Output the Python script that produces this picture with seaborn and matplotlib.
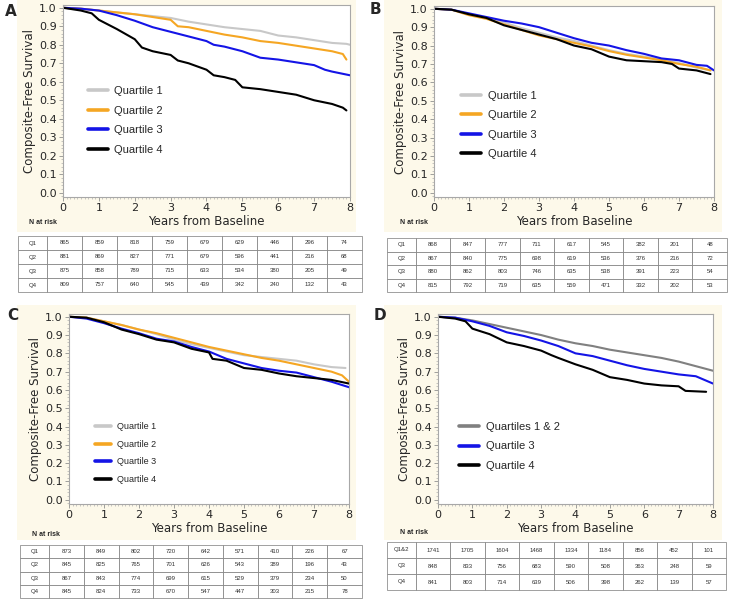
import pandas as pd
import matplotlib.pyplot as plt
import seaborn as sns
from matplotlib.patches import Rectangle
from matplotlib.lines import Line2D
from matplotlib.ticker import MultipleLocator

sns.set_style('white')
plt.rcParams['font.family'] = ['DejaVu Sans']

# ---- survival curves ----
# Panel A
a_q1_t = [0, 0.5, 1, 1.5, 2, 2.5, 3, 3.5, 4, 4.5, 5, 5.5, 5.8, 6, 6.5, 7, 7.5, 7.9, 8.0]
a_q1_s = [1.0, 0.995, 0.985, 0.975, 0.965, 0.955, 0.945, 0.925, 0.91, 0.895, 0.885, 0.875, 0.86, 0.85, 0.84, 0.825, 0.81, 0.805, 0.80]
a_q2_t = [0, 0.5, 1, 1.5, 2, 2.5, 3, 3.2, 3.5, 4, 4.5, 5, 5.5, 6, 6.5, 7, 7.5, 7.8, 7.9]
a_q2_s = [1.0, 0.995, 0.985, 0.975, 0.965, 0.95, 0.935, 0.90, 0.895, 0.875, 0.855, 0.84, 0.82, 0.81, 0.795, 0.78, 0.765, 0.75, 0.72]
a_q3_t = [0, 0.5, 1, 1.5, 2, 2.5, 3, 3.5, 4, 4.2, 4.5, 5, 5.5, 6, 6.5, 7, 7.3, 7.5, 8.0]
a_q3_s = [1.0, 0.995, 0.985, 0.96, 0.93, 0.895, 0.87, 0.845, 0.82, 0.80, 0.79, 0.765, 0.73, 0.72, 0.705, 0.69, 0.665, 0.655, 0.635]
a_q4_t = [0, 0.5, 0.8, 1, 1.5, 2, 2.2, 2.5, 3, 3.2, 3.5, 4, 4.2, 4.5, 4.8, 5, 5.5, 6, 6.5, 7, 7.5, 7.8, 7.9]
a_q4_s = [1.0, 0.985, 0.97, 0.935, 0.885, 0.83, 0.785, 0.765, 0.745, 0.715, 0.70, 0.665, 0.635, 0.625, 0.61, 0.57, 0.56, 0.545, 0.53, 0.50, 0.48, 0.46, 0.445]
# Panel B
b_q1_t = [0, 0.5, 1, 1.5, 2, 2.5, 3, 3.5, 4, 4.5, 5, 5.5, 6, 6.5, 7, 7.5, 7.9]
b_q1_s = [1.0, 0.995, 0.97, 0.95, 0.925, 0.895, 0.87, 0.845, 0.825, 0.80, 0.775, 0.755, 0.74, 0.725, 0.705, 0.68, 0.665]
b_q2_t = [0, 0.5, 1, 1.5, 2, 2.5, 3, 3.5, 4, 4.5, 5, 5.5, 6, 6.5, 7, 7.5, 7.9]
b_q2_s = [1.0, 0.995, 0.965, 0.945, 0.915, 0.885, 0.855, 0.835, 0.815, 0.795, 0.77, 0.75, 0.735, 0.72, 0.70, 0.685, 0.665]
b_q3_t = [0, 0.5, 1, 1.5, 2, 2.5, 3, 3.5, 4, 4.5, 5, 5.5, 6, 6.5, 7, 7.5, 7.8, 8.0]
b_q3_s = [1.0, 0.995, 0.975, 0.955, 0.935, 0.92, 0.90, 0.87, 0.84, 0.815, 0.80, 0.775, 0.755, 0.73, 0.72, 0.695, 0.69, 0.665]
b_q4_t = [0, 0.5, 1, 1.5, 2, 2.5, 3, 3.5, 4, 4.5, 5, 5.5, 6, 6.5, 6.8, 7, 7.5, 7.9]
b_q4_s = [1.0, 0.995, 0.97, 0.95, 0.91, 0.885, 0.86, 0.835, 0.80, 0.78, 0.74, 0.72, 0.715, 0.71, 0.70, 0.675, 0.665, 0.645]
# Panel C
c_q1_t = [0, 0.5, 1, 1.5, 2, 2.5, 3, 3.5, 4, 4.5, 5, 5.5, 6, 6.5, 7, 7.5, 7.9]
c_q1_s = [1.0, 0.995, 0.975, 0.955, 0.93, 0.905, 0.875, 0.85, 0.83, 0.81, 0.79, 0.78, 0.77, 0.76, 0.74, 0.725, 0.72]
c_q2_t = [0, 0.5, 1, 1.5, 2, 2.5, 3, 3.5, 4, 4.5, 5, 5.5, 6, 6.5, 7, 7.5, 7.8, 8.0]
c_q2_s = [1.0, 0.995, 0.975, 0.955, 0.93, 0.91, 0.885, 0.86, 0.835, 0.815, 0.795, 0.775, 0.76, 0.74, 0.72, 0.70, 0.68, 0.645]
c_q3_t = [0, 0.5, 1, 1.5, 2, 2.5, 3, 3.5, 4, 4.5, 5, 5.5, 6, 6.5, 7, 7.5, 8.0]
c_q3_s = [1.0, 0.99, 0.965, 0.935, 0.91, 0.88, 0.865, 0.835, 0.81, 0.77, 0.745, 0.72, 0.705, 0.695, 0.67, 0.645, 0.615]
c_q4_t = [0, 0.5, 1, 1.5, 2, 2.5, 3, 3.5, 4, 4.1, 4.5, 5, 5.5, 6, 6.5, 7, 7.5, 8.0]
c_q4_s = [1.0, 0.995, 0.97, 0.93, 0.905, 0.875, 0.86, 0.825, 0.805, 0.77, 0.76, 0.72, 0.71, 0.69, 0.675, 0.665, 0.655, 0.635]
# Panel D
d_q12_t = [0, 0.5, 1, 1.5, 2, 2.5, 3, 3.5, 4, 4.5, 5, 5.5, 6, 6.5, 7, 7.5, 8.0]
d_q12_s = [1.0, 0.995, 0.98, 0.96, 0.94, 0.92, 0.90, 0.875, 0.855, 0.84, 0.82, 0.805, 0.79, 0.775, 0.755, 0.73, 0.705]
d_q3_t = [0, 0.5, 1, 1.5, 2, 2.5, 3, 3.5, 4, 4.5, 5, 5.5, 6, 6.5, 7, 7.5, 8.0]
d_q3_s = [1.0, 0.995, 0.975, 0.95, 0.915, 0.895, 0.87, 0.84, 0.80, 0.785, 0.76, 0.735, 0.715, 0.70, 0.685, 0.675, 0.635]
d_q4_t = [0, 0.5, 0.8, 1, 1.5, 2, 2.5, 3, 3.3, 3.5, 4, 4.5, 5, 5.5, 6, 6.5, 7, 7.2, 7.8]
d_q4_s = [1.0, 0.99, 0.975, 0.935, 0.905, 0.86, 0.84, 0.815, 0.79, 0.775, 0.74, 0.71, 0.67, 0.655, 0.635, 0.625, 0.62, 0.595, 0.59]

# ---- number at risk ----
years = [0, 1, 2, 3, 4, 5, 6, 7, 8]
a_risk = [[865, 859, 818, 759, 679, 629, 446, 296, 74],
          [881, 869, 827, 771, 679, 596, 441, 216, 68],
          [875, 858, 789, 715, 633, 534, 380, 205, 49],
          [809, 757, 640, 545, 439, 342, 240, 132, 43]]
b_risk = [[868, 847, 777, 711, 617, 545, 382, 201, 48],
          [867, 840, 775, 698, 619, 536, 376, 216, 72],
          [880, 862, 803, 746, 635, 538, 391, 223, 54],
          [815, 792, 719, 635, 559, 471, 332, 202, 53]]
c_risk = [[873, 849, 802, 720, 642, 571, 410, 226, 67],
          [845, 825, 765, 701, 626, 543, 389, 196, 43],
          [867, 843, 774, 699, 615, 529, 379, 234, 50],
          [845, 824, 733, 670, 547, 447, 303, 215, 78]]
d_risk = [[1741, 1705, 1604, 1468, 1334, 1184, 856, 452, 101],
          [848, 833, 756, 683, 590, 508, 363, 248, 59],
          [841, 803, 714, 639, 506, 398, 262, 139, 57]]
quart_labels = ['Quartile 1', 'Quartile 2', 'Quartile 3', 'Quartile 4']
quart_rows = ['Q1', 'Q2', 'Q3', 'Q4']
d_labels = ['Quartiles 1 & 2', 'Quartile 3', 'Quartile 4']
d_rows = ['Q1&2', 'Q3', 'Q4']

quart_colors = ['#c8c8c8', '#f5a623', '#1414e6', '#000000']
d_colors = ['#808080', '#1414e6', '#000000']

W, H = 733, 600
fig = plt.figure(figsize=(W / 100, H / 100), dpi=100)
CREAM = '#fdf9ea'


def box(x0, y0, x1, y1):
    return [x0 / W, 1 - y1 / H, (x1 - x0) / W, (y1 - y0) / H]


def panel(letter, letter_xy, cream, plot_box, table_box, nrisk_xy, curves, labels, colors,
          risk, rows, leg_anchor, leg_fs, leg_space):
    fig.patches.append(Rectangle((cream[0] / W, 1 - cream[3] / H),
                                 (cream[2] - cream[0]) / W, (cream[3] - cream[1]) / H,
                                 transform=fig.transFigure, facecolor=CREAM,
                                 edgecolor='none', zorder=-5))
    ax = fig.add_axes(box(*plot_box))
    ax.set_facecolor('white')
    df = pd.concat([pd.DataFrame({'t': t, 's': s, 'group': lab})
                    for lab, (t, s) in zip(labels, curves)])
    sns.lineplot(data=df, x='t', y='s', hue='group', hue_order=labels,
                 palette=colors, estimator=None, sort=False,
                 lw=1.5, ax=ax, legend=False)
    ax.set_xlim(0, 8)
    ax.set_ylim(-0.023, 1.015)
    ax.xaxis.set_major_locator(MultipleLocator(1))
    ax.xaxis.set_minor_locator(MultipleLocator(0.1))
    ax.yaxis.set_minor_locator(MultipleLocator(0.02))
    ax.set_yticks([i / 10 for i in range(11)])
    ax.set_yticklabels([f'{i / 10:.1f}' for i in range(11)])
    ax.tick_params(which='major', length=3, width=0.6, color='#909090',
                   labelsize=8, pad=1.5, bottom=True, left=True)
    ax.tick_params(which='minor', length=1.5, width=0.5, color='#b0b0b0',
                   bottom=True, left=True)
    for sp in ax.spines.values():
        sp.set_color('#a8a8a8')
        sp.set_linewidth(0.8)
    ax.set_xlabel('Years from Baseline', fontsize=8.5, labelpad=1)
    ax.set_ylabel('Composite-Free Survival', fontsize=8.5, labelpad=2)
    handles = [Line2D([0], [0], color=c, lw=2.6) for c in colors]
    ax.legend(handles, labels, loc='upper left', bbox_to_anchor=leg_anchor,
              frameon=False, handlelength=1.8, handletextpad=0.6,
              labelspacing=leg_space, borderaxespad=0,
              prop={'family': 'Liberation Sans', 'size': leg_fs})
    fig.text(letter_xy[0] / W, 1 - letter_xy[1] / H, letter, fontsize=11,
             fontweight='bold', ha='center', va='center')
    fig.text(nrisk_xy[0] / W, 1 - nrisk_xy[1] / H, 'N at risk', fontsize=5,
             fontweight='bold', ha='left', va='center', family='Liberation Sans')

    tax = fig.add_axes(box(*table_box))
    tax.axis('off')
    cells = [[r] + [str(v) for v in vals] for r, vals in zip(rows, risk)]
    first = 0.085
    widths = [first] + [(1 - first) / len(years)] * len(years)
    tbl = tax.table(cellText=cells, colWidths=widths, bbox=[0, 0, 1, 1], cellLoc='center')
    tbl.auto_set_font_size(False)
    tbl.set_fontsize(4.3)
    for (r, c), cell in tbl.get_celld().items():
        cell.set_edgecolor('#7a7a7a')
        cell.set_linewidth(0.5)
        cell.set_facecolor('white')
        cell.get_text().set_color('#333333')
        cell.get_text().set_family('Liberation Sans')
        if c == 0:
            cell._loc = 'left'
            cell.PAD = 0.12


panel('A', (11, 11), (17, 0, 356, 232), (63, 5, 350, 197), (18, 236, 362, 292), (29, 222),
      [(a_q1_t, a_q1_s), (a_q2_t, a_q2_s), (a_q3_t, a_q3_s), (a_q4_t, a_q4_s)],
      quart_labels, quart_colors, a_risk, quart_rows, (0.07, 0.6), 8, 0.85)
panel('B', (375, 10), (384, 0, 722, 232), (434, 6, 714, 197), (387, 238, 727, 292), (400, 222),
      [(b_q1_t, b_q1_s), (b_q2_t, b_q2_s), (b_q3_t, b_q3_s), (b_q4_t, b_q4_s)],
      quart_labels, quart_colors, b_risk, quart_rows, (0.08, 0.58), 8, 0.85)
panel('C', (13, 315), (17, 305, 356, 540), (69, 314, 349, 504), (20, 545, 362, 598), (32, 534),
      [(c_q1_t, c_q1_s), (c_q2_t, c_q2_s), (c_q3_t, c_q3_s), (c_q4_t, c_q4_s)],
      quart_labels, quart_colors, c_risk, quart_rows, (0.08, 0.45), 6.5, 0.95)
panel('D', (380, 315), (384, 305, 722, 540), (438, 314, 713, 504), (387, 542, 726, 590), (400, 533),
      [(d_q12_t, d_q12_s), (d_q3_t, d_q3_s), (d_q4_t, d_q4_s)],
      d_labels, d_colors, d_risk, d_rows, (0.06, 0.455), 8, 0.85)

fig.savefig('out.png', dpi=100, facecolor='white')
